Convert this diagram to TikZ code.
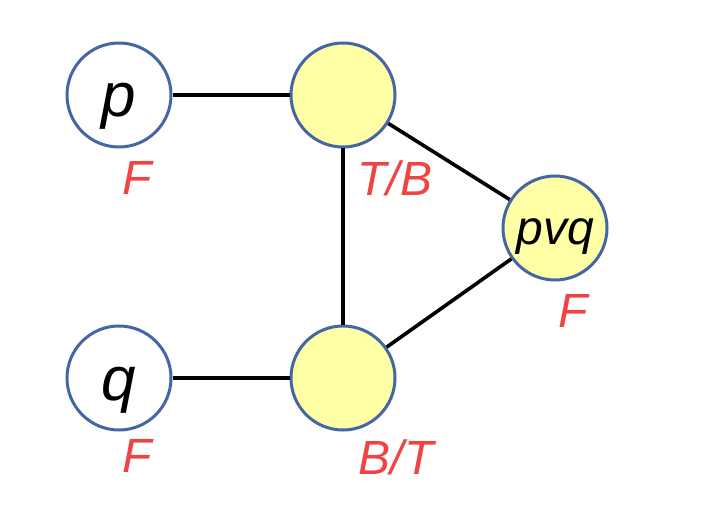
\documentclass[tikz,border=0pt]{standalone}
\usepackage{fontspec}
\setmainfont{Liberation Sans}
\definecolor{ringblue}{RGB}{68,102,166}
\definecolor{pale}{RGB}{255,255,165}
\definecolor{lblred}{RGB}{238,68,68}
\tikzset{
  vert/.style={circle, draw=ringblue, line width=3pt, minimum size=104pt, inner sep=0pt},
  leaf/.style={vert, fill=white, font=\fontsize{62}{66}\selectfont\itshape, text height=54pt, text depth=10pt},
  gate/.style={vert, fill=pale, font=\fontsize{48}{52}\selectfont\itshape, text height=40pt, text depth=8pt},
  val/.style={text=lblred, font=\fontsize{48}{52}\selectfont\itshape, inner sep=0pt},
  wire/.style={line width=3.6pt, black}
}
\begin{document}
\begin{tikzpicture}[x=1pt,y=-1pt]
\useasboundingbox (0,0) rectangle (708,526);
\node[leaf] (p) at (119,95) {p};
\node[gate] (t) at (343,95) {};
\node[gate] (o) at (555,228) {pvq};
\node[leaf] (q) at (119,378) {q};
\node[gate] (b) at (343,378) {};
\draw[wire] (p) -- (t);
\draw[wire] (t) -- (b);
\draw[wire] (t) -- (o);
\draw[wire] (b) -- (o);
\draw[wire] (q) -- (b);
\node[val] (pf) at (137,178) {F};
\node[val] (tv) at (395,178) {T/B};
\node[val] (of) at (573,311) {F};
\node[val] (qf) at (137,456) {F};
\node[val] (bv) at (396,457) {B/T};
\end{tikzpicture}
\end{document}
